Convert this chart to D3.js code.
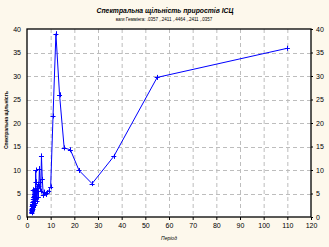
<!DOCTYPE html>
<html><head><meta charset="utf-8">
<script src="https://cdn.jsdelivr.net/npm/d3@7"></script>
<style>body{margin:0;background:#fdf8ec}svg{display:block}</style>
</head><body>
<script>
const title = "Спектральна щільність приростів ІСЦ";
const subtitle = "ваги Геммінга: .0357 ,.2411 ,.4464 ,.2411 ,.0357";
const xLabel = "Період";
const yLabel = "Спектральна щільність";
const xTicks = [0,10,20,30,40,50,60,70,80,90,100,110,120];
const yTicks = [0,5,10,15,20,25,30,35,40];
// periods (110/k) and spectral density values
const periods = [110,55,36.67,27.5,22,18.33,15.71,13.75,12.22,11,10,9.17,8.46,7.86,7.33,6.88,6.47,6.11,5.79,5.5,5.24,5.0,4.78,4.58,4.4,4.23,4.07,3.93,3.79,3.67,3.55,3.44,3.33,3.24,3.14,3.06,2.97,2.89,2.82,2.75,2.68,2.62,2.56,2.5,2.44,2.39,2.34,2.29,2.24,2.2,2.16,2.12,2.08,2.04,2.0];
const density = [35.9,29.7,12.9,7.1,9.9,14.3,14.7,26.0,39.0,21.5,6.4,5.6,5.2,4.8,5.3,4.6,8.0,13.0,5.5,7.5,10.3,6.5,4.2,7.0,5.5,3.5,6.2,4.0,7.5,10.0,3.0,5.5,6.0,2.5,4.5,5.0,2.8,3.5,4.2,2.2,3.8,5.8,2.5,1.8,3.2,2.6,1.5,2.8,2.0,1.2,2.4,1.8,0.9,1.5,1.0];

const W=329,H=247;
const m={l:27,r:18,t:29,b:30};
const svg=d3.select("body").append("svg").attr("width",W).attr("height",H);
svg.append("rect").attr("width",W).attr("height",H).attr("fill","#fdf8ec");
const x=d3.scaleLinear().domain([0,120]).range([m.l,W-m.r]);
const y=d3.scaleLinear().domain([0,40]).range([H-m.b,m.t]);
svg.append("rect").attr("x",x(0)).attr("y",y(40)).attr("width",x(120)-x(0)).attr("height",y(0)-y(40)).attr("fill","#fff");
const g=svg.append("g");
g.selectAll(".vg").data(xTicks.slice(1,-1)).join("line")
 .attr("x1",d=>x(d)+0.5).attr("x2",d=>x(d)+0.5).attr("y1",y(40)).attr("y2",y(0))
 .attr("stroke","#bdbdbd").attr("stroke-dasharray","4,3");
g.selectAll(".hg").data(yTicks.slice(1,-1)).join("line")
 .attr("y1",d=>Math.round(y(d))+0.5).attr("y2",d=>Math.round(y(d))+0.5).attr("x1",x(0)).attr("x2",x(120))
 .attr("stroke","#bdbdbd").attr("stroke-dasharray","4,3");

const pts=periods.map((p,i)=>[p,density[i]]);
svg.append("path").datum(pts).attr("fill","none").attr("stroke","#0000ff").attr("stroke-width",1)
 .attr("d",d3.line().x(d=>x(d[0])).y(d=>y(d[1])));
const mk=svg.append("g").attr("stroke","#0000ff").attr("stroke-width",1);
mk.selectAll(".h").data(pts).join("line").attr("x1",d=>x(d[0])-2.5).attr("x2",d=>x(d[0])+2.5).attr("y1",d=>Math.round(y(d[1]))+0.5).attr("y2",d=>Math.round(y(d[1]))+0.5);
mk.selectAll(".v").data(pts).join("line").attr("x1",d=>Math.round(x(d[0]))+0.5).attr("x2",d=>Math.round(x(d[0]))+0.5).attr("y1",d=>y(d[1])-2.5).attr("y2",d=>y(d[1])+2.5);

svg.append("rect").attr("x",x(0)).attr("y",y(40)).attr("width",x(120)-x(0)).attr("height",y(0)-y(40))
 .attr("fill","none").attr("stroke","#000").attr("stroke-width",1.3);

const fs="7px", ff="Arial, 'Liberation Sans', sans-serif";
const bx=d3.axisBottom(x).tickValues(xTicks).tickSize(3).tickFormat(d3.format("d"));
const ly=d3.axisLeft(y).tickValues(yTicks).tickSize(0).tickPadding(6);
const ry=d3.axisRight(y).tickValues(yTicks).tickSize(2).tickPadding(3);
const style=a=>{a.select(".domain").remove();a.selectAll("text").attr("font-size",fs).attr("font-family",ff).attr("fill","#000");a.selectAll("line").attr("stroke","#000");};
svg.append("g").attr("transform",`translate(0,${y(0)})`).call(bx).call(style);
svg.append("g").attr("transform",`translate(${x(0)},0)`).call(ly).call(style);
svg.append("g").attr("transform",`translate(${x(120)},0)`).call(ry).call(style);

svg.append("text").attr("x",165).attr("y",12.5).attr("text-anchor","middle").attr("font-family",ff)
 .attr("font-size","6.8px").attr("font-weight","bold").attr("font-style","italic").text(title);
svg.append("text").attr("x",164).attr("y",21).attr("text-anchor","middle").attr("font-family",ff)
 .attr("font-size","4.5px").text(subtitle);
svg.append("text").attr("x",169).attr("y",240).attr("text-anchor","middle").attr("font-family",ff)
 .attr("font-size","5px").attr("font-style","italic").text(xLabel);
svg.append("text").attr("transform","translate(8,120) rotate(-90)").attr("text-anchor","middle").attr("font-family",ff)
 .attr("font-size","5px").attr("font-weight","bold").text(yLabel);
</script>
</body></html>
